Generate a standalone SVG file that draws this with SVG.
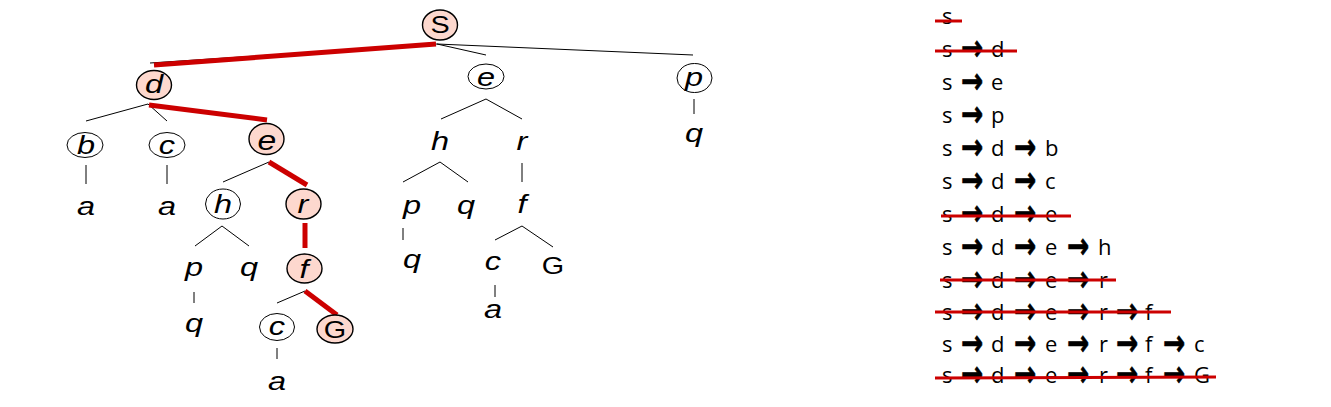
<svg xmlns="http://www.w3.org/2000/svg" width="1331" height="407" viewBox="0 0 1331 407">
<style>
.n{fill:#fff;stroke:#000;stroke-width:1}
.hl{fill:#FDD8CE;stroke:#000;stroke-width:1.4}
.e{stroke:#000;stroke-width:1;fill:none}
.r{stroke:#CC0000;stroke-width:5;fill:none}
.s{stroke:#CC0000;stroke-width:3;fill:none}
.t{font-family:"Liberation Sans",Arial,sans-serif;font-style:italic;font-size:25px;text-anchor:middle;fill:#000}
.u{font-family:"Liberation Sans",Arial,sans-serif;font-size:24px;text-anchor:middle;fill:#000}
.l{font-family:"Open Sans","Noto Sans",sans-serif;font-size:22px;fill:#000}
.a{font-family:"DejaVu Sans",sans-serif;font-weight:bold;font-size:28px;fill:#000;stroke:#000;stroke-width:0.5}
</style>
<defs>
<text id="ar" class="a" transform="scale(0.95,1.3)">→</text>
</defs>
<rect width="1331" height="407" fill="#fff"/>
<g id="connectors">
<line class="e" x1="437" y1="44" x2="150" y2="63"/>
<line class="e" x1="437" y1="44" x2="486" y2="55"/>
<line class="e" x1="437" y1="44" x2="693" y2="55"/>
<line class="e" x1="148" y1="104" x2="86" y2="121"/>
<line class="e" x1="148" y1="104" x2="167" y2="121"/>
<line class="e" x1="86" y1="165" x2="86" y2="184"/>
<line class="e" x1="167" y1="165" x2="167" y2="184"/>
<line class="e" x1="269" y1="162" x2="223" y2="182"/>
<line class="e" x1="222" y1="226" x2="195" y2="246"/>
<line class="e" x1="222" y1="226" x2="249" y2="246"/>
<line class="e" x1="194" y1="292" x2="194" y2="303"/>
<line class="e" x1="305" y1="291" x2="277" y2="303"/>
<line class="e" x1="277" y1="348" x2="277" y2="359"/>
<line class="e" x1="486" y1="99" x2="441" y2="119"/>
<line class="e" x1="486" y1="99" x2="522" y2="119"/>
<line class="e" x1="440" y1="162" x2="403" y2="182"/>
<line class="e" x1="440" y1="162" x2="468" y2="182"/>
<line class="e" x1="522" y1="163" x2="522" y2="182"/>
<line class="e" x1="403" y1="228" x2="403" y2="240"/>
<line class="e" x1="522" y1="226" x2="495" y2="240"/>
<line class="e" x1="522" y1="226" x2="553" y2="247"/>
<line class="e" x1="495" y1="285" x2="495" y2="297"/>
<line class="e" x1="694" y1="99" x2="694" y2="114"/>
<line class="r" x1="436" y1="44" x2="154" y2="65"/>
<line class="r" x1="149" y1="105" x2="267" y2="120"/>
<line class="r" x1="269" y1="162" x2="307" y2="185"/>
<line class="r" x1="305" y1="223" x2="305" y2="248"/>
<line class="r" x1="305" y1="291" x2="337" y2="315"/>
</g>
<g id="node-S"><ellipse class="hl" cx="440" cy="25" rx="17.5" ry="15"/><text class="u" transform="translate(440,33) scale(1.2,1)">S</text></g>
<g id="node-d"><ellipse class="hl" cx="154" cy="85" rx="17.5" ry="14.5"/><text class="t" transform="translate(154,93) scale(1.3,1)">d</text></g>
<g id="node-b"><ellipse class="n" cx="85" cy="145" rx="18" ry="12.5"/><text class="t" transform="translate(86,154) scale(1.3,1)">b</text></g>
<g id="node-c1"><ellipse class="n" cx="167" cy="145" rx="18" ry="12.5"/><text class="t" transform="translate(167,154) scale(1.3,1)">c</text></g>
<g id="node-a1"><text class="t" transform="translate(86,215) scale(1.3,1)">a</text></g>
<g id="node-a2"><text class="t" transform="translate(167,215) scale(1.3,1)">a</text></g>
<g id="node-e1"><ellipse class="hl" cx="266.5" cy="139" rx="17.5" ry="15.5"/><text class="t" transform="translate(267,150) scale(1.35,1.1)">e</text></g>
<g id="node-h1"><ellipse class="n" cx="223" cy="204" rx="17.5" ry="15"/><text class="t" transform="translate(223,213) scale(1.3,1)">h</text></g>
<g id="node-r1"><ellipse class="hl" cx="303.5" cy="204" rx="17.5" ry="15"/><text class="t" transform="translate(303,213) scale(1.3,1)">r</text></g>
<g id="node-p1"><text class="t" transform="translate(194,276) scale(1.3,1)">p</text></g>
<g id="node-q1"><text class="t" transform="translate(249,276) scale(1.3,1)">q</text></g>
<g id="node-q2"><text class="t" transform="translate(194,332) scale(1.3,1)">q</text></g>
<g id="node-f1"><ellipse class="hl" cx="304.5" cy="268.5" rx="17.5" ry="14.5"/><text class="t" transform="translate(304,278) scale(1.3,1)">f</text></g>
<g id="node-c2"><ellipse class="n" cx="277" cy="327" rx="17.5" ry="13.5"/><text class="t" transform="translate(277,335) scale(1.3,1)">c</text></g>
<g id="node-G1"><ellipse class="hl" cx="335" cy="329" rx="18" ry="14"/><text class="u" transform="translate(335,338) scale(1.2,1)">G</text></g>
<g id="node-a3"><text class="t" transform="translate(277,390) scale(1.3,1)">a</text></g>
<g id="node-e2"><ellipse class="n" cx="486" cy="76.5" rx="18" ry="12.5"/><text class="t" transform="translate(486,86) scale(1.3,1)">e</text></g>
<g id="node-h2"><text class="t" transform="translate(440,150) scale(1.3,1)">h</text></g>
<g id="node-r2"><text class="t" transform="translate(522,150) scale(1.3,1)">r</text></g>
<g id="node-p2"><text class="t" transform="translate(412,214) scale(1.3,1)">p</text></g>
<g id="node-q3"><text class="t" transform="translate(466,214) scale(1.3,1)">q</text></g>
<g id="node-f2"><text class="t" transform="translate(522,213) scale(1.3,1)">f</text></g>
<g id="node-q4"><text class="t" transform="translate(412,268) scale(1.3,1)">q</text></g>
<g id="node-c3"><text class="t" transform="translate(493,270) scale(1.3,1)">c</text></g>
<g id="node-G2"><text class="u" transform="translate(553,274) scale(1.2,1)">G</text></g>
<g id="node-a4"><text class="t" transform="translate(493,318) scale(1.3,1)">a</text></g>
<g id="node-p3"><ellipse class="n" cx="694.5" cy="78" rx="17.5" ry="14.5"/><text class="t" transform="translate(694,86) scale(1.3,1)">p</text></g>
<g id="node-q5"><text class="t" transform="translate(694,142) scale(1.3,1)">q</text></g>
<g id="list">
<text class="l" x="942" y="24">s</text>
<text class="l" x="942" y="57">s</text><use href="#ar" x="961" y="60"/><text class="l" x="991" y="57">d</text>
<text class="l" x="942" y="90">s</text><use href="#ar" x="961" y="93"/><text class="l" x="991" y="90">e</text>
<text class="l" x="942" y="123">s</text><use href="#ar" x="961" y="126"/><text class="l" x="991" y="123">p</text>
<text class="l" x="942" y="156">s</text><use href="#ar" x="961" y="159"/><text class="l" x="991" y="156">d</text><use href="#ar" x="1014" y="159"/><text class="l" x="1045" y="156">b</text>
<text class="l" x="942" y="189">s</text><use href="#ar" x="961" y="192"/><text class="l" x="991" y="189">d</text><use href="#ar" x="1014" y="192"/><text class="l" x="1045" y="189">c</text>
<text class="l" x="942" y="222">s</text><use href="#ar" x="961" y="225"/><text class="l" x="991" y="222">d</text><use href="#ar" x="1014" y="225"/><text class="l" x="1045" y="222">e</text>
<text class="l" x="942" y="255">s</text><use href="#ar" x="961" y="258"/><text class="l" x="991" y="255">d</text><use href="#ar" x="1014" y="258"/><text class="l" x="1045" y="255">e</text><use href="#ar" x="1067" y="258"/><text class="l" x="1098" y="255">h</text>
<text class="l" x="942" y="288">s</text><use href="#ar" x="961" y="291"/><text class="l" x="991" y="288">d</text><use href="#ar" x="1014" y="291"/><text class="l" x="1045" y="288">e</text><use href="#ar" x="1067" y="291"/><text class="l" x="1099" y="288">r</text>
<text class="l" x="942" y="320">s</text><use href="#ar" x="961" y="323"/><text class="l" x="991" y="320">d</text><use href="#ar" x="1014" y="323"/><text class="l" x="1045" y="320">e</text><use href="#ar" x="1067" y="323"/><text class="l" x="1099" y="320">r</text><use href="#ar" x="1116" y="323"/><text class="l" x="1145" y="320">f</text>
<text class="l" x="942" y="352">s</text><use href="#ar" x="961" y="355"/><text class="l" x="991" y="352">d</text><use href="#ar" x="1014" y="355"/><text class="l" x="1045" y="352">e</text><use href="#ar" x="1067" y="355"/><text class="l" x="1099" y="352">r</text><use href="#ar" x="1116" y="355"/><text class="l" x="1145" y="352">f</text><use href="#ar" x="1163" y="355"/><text class="l" x="1194" y="352">c</text>
<text class="l" x="942" y="383">s</text><use href="#ar" x="961" y="386"/><text class="l" x="991" y="383">d</text><use href="#ar" x="1014" y="386"/><text class="l" x="1045" y="383">e</text><use href="#ar" x="1067" y="386"/><text class="l" x="1099" y="383">r</text><use href="#ar" x="1116" y="386"/><text class="l" x="1145" y="383">f</text><use href="#ar" x="1163" y="386"/><text class="l" x="1194" y="383">G</text>
</g>
<g id="strikes">
<line class="s" x1="935" y1="21" x2="962" y2="21"/>
<line class="s" x1="935" y1="51" x2="1017" y2="51"/>
<line class="s" x1="941" y1="216" x2="1071" y2="216"/>
<line class="s" x1="940" y1="280" x2="1116" y2="280"/>
<line class="s" x1="935" y1="312" x2="1171" y2="312"/>
<line class="s" x1="935" y1="378" x2="1216" y2="377"/>
</g>
</svg>
